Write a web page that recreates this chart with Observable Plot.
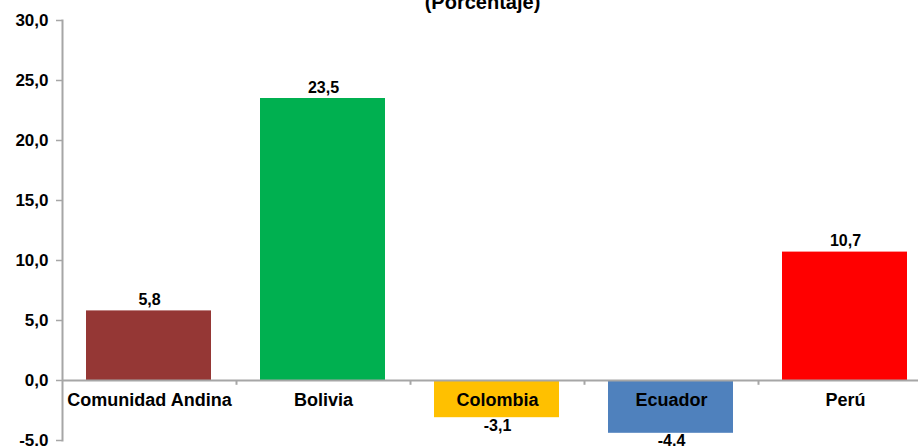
<!DOCTYPE html>
<html>
<head>
<meta charset="utf-8">
<script src="https://cdn.jsdelivr.net/npm/d3@7"></script>
<script src="https://cdn.jsdelivr.net/npm/@observablehq/plot@0.6"></script>
<style>
  html, body { margin: 0; padding: 0; background: #fff; overflow: hidden; }
  #wrap { position: relative; width: 920px; height: 446px; }
  #title { position: absolute; left: 0; top: -9px; width: 965px; text-align: center;
           font: bold 20px "Liberation Sans", Arial, sans-serif; color: #000; }
  svg { font-family: "Liberation Sans", Arial, sans-serif; }
</style>
</head>
<body>
<div id="wrap"><div id="title">(Porcentaje)</div><div id="chart"></div></div>
<script>
const categories = ["Comunidad Andina", "Bolivia", "Colombia", "Ecuador", "Perú"];
const values = [5.8, 23.5, -3.1, -4.4, 10.7];
const colors = ["#953735", "#00B050", "#FFC000", "#4F81BD", "#FF0000"];
const yTicks = [-5, 0, 5, 10, 15, 20, 25, 30];

const data = categories.map((c, i) => ({category: c, value: values[i], color: colors[i]}));
const fmt = v => d3.format(".1f")(v).replace(".", ",").replace("−", "-");

const chart = Plot.plot({
  width: 920,
  height: 446,
  marginLeft: 62,
  marginRight: 2,
  marginTop: 20,
  marginBottom: 6,
  x: {domain: categories, range: [62, 932], padding: 0, axis: null},
  y: {domain: [-5, 30], axis: null},
  marks: [
    Plot.barY(data, {x: "category", y: "value", fill: "color", insetLeft: 24, insetRight: 25}),
    Plot.axisY({ticks: yTicks, tickFormat: fmt, tickSize: 6, tickPadding: 8, label: null,
                stroke: "#a6a6a6", fill: "#000", strokeWidth: 1.5, fontSize: 17, fontWeight: "bold"}),
    Plot.frame({anchor: "left", stroke: "#a6a6a6", strokeWidth: 2}),
    Plot.ruleY([0], {stroke: "#a6a6a6", strokeWidth: 2}),
    Plot.ruleX(categories.slice(1), {x: d => d, dx: -87, y1: 0, y2: -0.4, stroke: "#a6a6a6", strokeWidth: 2}),
    Plot.text(data, {x: "category", y: 0, text: "category", dy: 20, fontSize: 18, fontWeight: "bold", fill: "#000"}),
    Plot.text(data, {x: "category", y: "value", text: d => fmt(d.value),
                     fontSize: 16, fontWeight: "bold", fill: "#000",
                     lineAnchor: "middle", filter: d => d.value >= 0, dy: -11}),
    Plot.text(data, {x: "category", y: "value", text: d => fmt(d.value),
                     fontSize: 16, fontWeight: "bold", fill: "#000",
                     lineAnchor: "middle", filter: d => d.value < 0, dy: 8})
  ]
});
document.getElementById("chart").appendChild(chart);
</script>
</body>
</html>
